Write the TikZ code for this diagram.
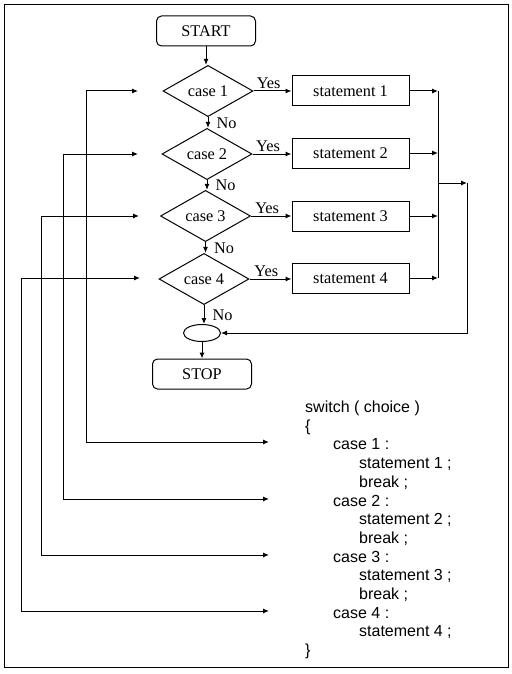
\documentclass[tikz,border=0pt]{standalone}
\usepackage{fontspec}
\setmainfont{Liberation Serif}
\newfontfamily\codefont{Liberation Sans}
\usetikzlibrary{arrows.meta, shapes.geometric}

\tikzset{
  flow/.style={line width=1pt, -{Latex[length=6pt,width=5pt]}},
  twoway/.style={line width=1pt, {Latex[length=6pt,width=5pt]}-{Latex[length=6pt,width=5pt]}},
  termbox/.style={draw, line width=1pt, rounded corners=5pt,
        minimum width=99pt, minimum height=30pt, inner sep=0pt},
  casebox/.style={draw, diamond, line width=1pt, inner sep=0pt,
        minimum width=90pt, minimum height=33pt},
  stmtbox/.style={draw, line width=1pt, minimum width=117pt,
        minimum height=30pt, inner sep=0pt},
  codeline/.style={anchor=base west, inner sep=0pt,
        font=\codefont\fontsize{16}{19}\selectfont},
  yeslabel/.style={pos=0.4, above, inner sep=1.5pt},
  nolabel/.style={pos=0.55, right, inner sep=0pt, xshift=8pt}
}

\begin{document}
\begin{tikzpicture}[x=1pt, y=-1pt,
      every node/.style={font=\fontsize{16.3}{19}\selectfont}]
    \useasboundingbox (0,0) rectangle (511,674);
    \draw[line width=1pt] (4.5,4.5) rectangle (508,667);

    % flowchart
    \node[termbox] (start) at (206,31) {START};
    \node[casebox] (case1) at (208,91) {case 1};
    \node[casebox] (case2) at (207,154) {case 2};
    \node[casebox] (case3) at (205.5,216) {case 3};
    \node[casebox] (case4) at (204,279) {case 4};
    \node[draw, ellipse, line width=1pt, minimum width=37pt,
          minimum height=17pt, inner sep=0pt] (join) at (202,333) {};
    \node[termbox] (stop) at (202,374) {STOP};

    \node[stmtbox] (stmt1) at (350.5,91) {statement 1};
    \node[stmtbox] (stmt2) at (350.5,153) {statement 2};
    \node[stmtbox] (stmt3) at (350.5,216) {statement 3};
    \node[stmtbox] (stmt4) at (350.5,278) {statement 4};

    \draw[flow] (start) -- (start.south |- case1.north);
    \draw[flow] (case1) -- (case1.south |- case2.north) node[nolabel] {No};
    \draw[flow] (case2) -- (case2.south |- case3.north) node[nolabel] {No};
    \draw[flow] (case3) -- (case3.south |- case4.north) node[nolabel] {No};
    \draw[flow] (case4) -- (case4.south |- join.north) node[nolabel] {No};
    \draw[flow] (join) -- (join.south |- stop.north);

    \draw[flow] (case1.east) -- (stmt1.west |- case1.east) node[yeslabel] {Yes};
    \draw[flow] (case2.east) -- (stmt2.west |- case2.east) node[yeslabel] {Yes};
    \draw[flow] (case3.east) -- (stmt3.west |- case3.east) node[yeslabel] {Yes};
    \draw[flow] (case4.east) -- (stmt4.west |- case4.east) node[yeslabel] {Yes};

    % collecting the statements
    \coordinate (m1) at (438,91);
    \coordinate (m2) at (438,153);
    \coordinate (m3) at (438,216);
    \coordinate (m4) at (438,278);
    \coordinate (mj) at (438,183);
    \coordinate (back) at (467,183);
    \draw[flow] (stmt1) -- (m1);
    \draw[flow] (stmt2) -- (m2);
    \draw[flow] (stmt3) -- (m3);
    \draw[flow] (stmt4) -- (m4);
    \draw[line width=1pt] (m1) -- (m4);
    \draw[flow] (mj) -- (back);
    \draw[flow] (back) |- (join.east);

    % switch code
    \node[codeline] (sw) at (305,412.5) {switch ( choice )};
    \node[codeline] (open) at (305,431.2) {\{};
    \node[codeline] (lab1) at (333,449.9) {case 1 :};
    \node[codeline] (cs1) at (359,468.6) {statement 1 ;};
    \node[codeline] (br1) at (359,487.3) {break ;};
    \node[codeline] (lab2) at (333,506) {case 2 :};
    \node[codeline] (cs2) at (359,524.7) {statement 2 ;};
    \node[codeline] (br2) at (359,543.4) {break ;};
    \node[codeline] (lab3) at (333,562.1) {case 3 :};
    \node[codeline] (cs3) at (359,580.8) {statement 3 ;};
    \node[codeline] (br3) at (359,599.5) {break ;};
    \node[codeline] (lab4) at (333,618.2) {case 4 :};
    \node[codeline] (cs4) at (359,636.9) {statement 4 ;};
    \node[codeline] (close) at (305,655.6) {\}};

    % links from the code to the cases
    \coordinate (in1) at (138,91);
    \coordinate (in2) at (138,154);
    \coordinate (in3) at (139,216);
    \coordinate (in4) at (140,278);
    \coordinate (out1) at (269,442);
    \coordinate (out2) at (269,499);
    \coordinate (out3) at (269,555);
    \coordinate (out4) at (269,611);
    \draw[twoway] (in1) -- ++(-52,0) |- (out1);
    \draw[twoway] (in2) -- ++(-75,0) |- (out2);
    \draw[twoway] (in3) -- ++(-98,0) |- (out3);
    \draw[twoway] (in4) -- ++(-119,0) |- (out4);
  \end{tikzpicture}
\end{document}
